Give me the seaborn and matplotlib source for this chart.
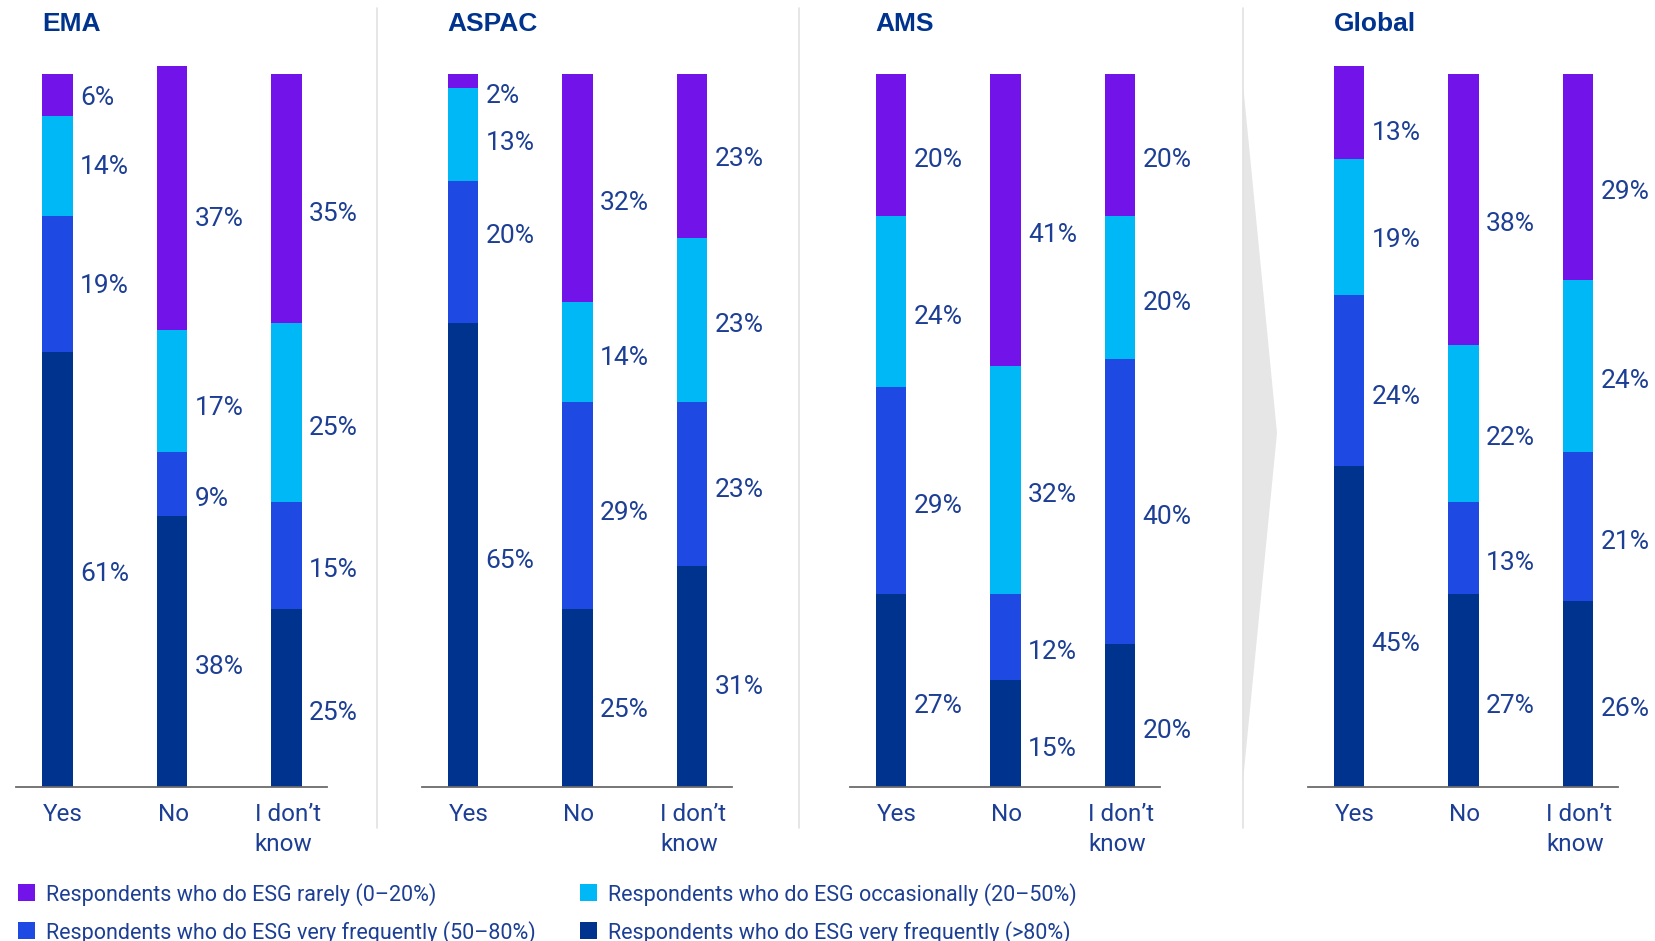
import matplotlib
matplotlib.use("Agg")
import matplotlib.pyplot as plt
import matplotlib.transforms as mtransforms
from matplotlib.lines import Line2D
from matplotlib.patches import Polygon, Rectangle
import pandas as pd
import seaborn as sns

# Survey data: share of respondents by ESG frequency, per region and answer
regions = ["EMA", "ASPAC", "AMS", "Global"]
answers = ["Yes", "No", "I don\u2019t\nknow"]
levels = [
    "Respondents who do ESG very frequently (>80%)",
    "Respondents who do ESG very frequently (50\u201380%)",
    "Respondents who do ESG occasionally (20\u201350%)",
    "Respondents who do ESG rarely (0\u201320%)",
]

# values per answer, stacked bottom -> top: >80%, 50-80%, 20-50%, 0-20%
ema = [[61, 19, 14, 6], [38, 9, 17, 37], [25, 15, 25, 35]]
aspac = [[65, 20, 13, 2], [25, 29, 14, 32], [31, 23, 23, 23]]
ams = [[27, 29, 24, 20], [15, 12, 32, 41], [20, 40, 20, 20]]
global_ = [[45, 24, 19, 13], [27, 13, 22, 38], [26, 21, 24, 29]]
region_values = [ema, aspac, ams, global_]

colors = ["#00338D", "#1E49E2", "#00B8F5", "#7213EA"]
text_color = "#1C3E94"
title_color = "#00338D"

# vertical nudges for value labels (px, positive = downwards)
default_shift = 12
label_shift = {
    ("EMA", 0): [2, 0, -2, 1],
    ("EMA", 1): [12, 12, 14, 17],
    ("ASPAC", 0): [3, -17, 6, 12],
    ("ASPAC", 1): [9, 5, 4, 12],
    ("ASPAC", 2): [8, 4, 3, 1],
    ("Global", 0): [14, 13, 10, 17],
}

rows = []
for reg, vals in zip(regions, region_values):
    for ai, (ans, stack) in enumerate(zip(answers, vals)):
        cum = 0
        for li, (lev, v) in enumerate(zip(levels, stack)):
            rows.append(dict(region=reg, answer=ans, a_idx=ai, l_idx=li,
                             level=lev, value=v, bottom=cum, top=cum + v))
            cum += v
df = pd.DataFrame(rows)

sns.set_theme(style="white")
plt.rcParams["font.family"] = ["Roboto", "Liberation Sans", "DejaVu Sans"]

W, H = 1655, 941
fig = plt.figure(figsize=(W / 100, H / 100), dpi=100)


def fx(px):
    return px / W


def fy(py):
    return 1 - py / H


spacing = 114.5          # px between bar centres
bar_w = 0.27
xlim = (-0.36, 2.35)
first_centres = [57.5, 463, 891, 1349]
base_px, top_px = 787, 73.5
px_per_unit = (base_px - top_px) / 100
scale = W / 1568

for reg, c0 in zip(regions, first_centres):
    left = c0 - (0 - xlim[0]) * spacing
    width = (xlim[1] - xlim[0]) * spacing
    ax = fig.add_axes([fx(left), fy(base_px), width / W, (base_px - top_px) / H])
    sub = df[df.region == reg]
    # draw cumulative totals from the top level down so each band shows
    for lev, col in zip(levels[::-1], colors[::-1]):
        d = sub[sub.level == lev]
        sns.barplot(data=d, x="answer", y="top", order=answers, color=col,
                    saturation=1, width=bar_w, errorbar=None, linewidth=0,
                    ax=ax)
    for p in ax.patches:
        p.set_clip_on(False)
    ax.set_xlim(*xlim)
    ax.set_ylim(0, 100)
    ax.set_xlabel("")
    ax.set_ylabel("")
    ax.set_xticks([])
    ax.set_yticks([])
    for s in ["top", "right", "left"]:
        ax.spines[s].set_visible(False)
    ax.spines["bottom"].set_color("#6b6b6b")
    ax.spines["bottom"].set_linewidth(1.3)
    ax.patch.set_alpha(0)

    # segment value labels
    for _, r in sub.iterrows():
        shifts = label_shift.get((reg, r.a_idx), [default_shift] * 4)
        dy = shifts[r.l_idx] * scale / px_per_unit
        ax.text(r.a_idx + bar_w / 2 + 0.06, r.bottom + r.value / 2 - dy,
                f"{r.value}%", ha="left", va="center_baseline",
                fontsize=19, color=text_color, clip_on=False)

    trans = mtransforms.blended_transform_factory(ax.transData, fig.transFigure)
    # category labels: short ones flush with the bar, the two-line one centred
    for i, ans in enumerate(answers):
        centred = "\n" in ans
        ax.text(i + 0.01 if centred else i - bar_w / 2 + 0.01, fy(803), ans,
                transform=trans, ha="center" if centred else "left",
                multialignment="left", va="top", fontsize=17.5,
                color=text_color, linespacing=1.38)
    # panel title
    ax.text(-bar_w / 2, fy(31), reg, transform=trans, ha="left",
            va="baseline", fontsize=19, fontweight="bold", color=title_color,
            family=["Liberation Sans", "DejaVu Sans"])

# panel separators
for xp in [377, 799, 1243]:
    fig.add_artist(Line2D([fx(xp), fx(xp)], [fy(8), fy(828)],
                          color="#e2e2e2", lw=1.2))
fig.add_artist(Polygon([(fx(1243), fy(84)), (fx(1277), fy(433)),
                        (fx(1243), fy(781))], closed=True,
                       facecolor="#e6e6e6", edgecolor="none"))

# legend
legend_items = [
    (levels[3], colors[3], 18, 892),
    (levels[2], colors[2], 580, 892),
    (levels[1], colors[1], 18, 930),
    (levels[0], colors[0], 580, 930),
]
sq = 17
for label, col, xp, yp in legend_items:
    fig.add_artist(Rectangle((fx(xp), fy(yp + sq / 2)), sq / W, sq / H,
                             facecolor=col, edgecolor="none"))
    fig.text(fx(xp + 28), fy(yp), label, ha="left", va="center_baseline",
             fontsize=15.5, color=text_color)

fig.savefig("out.png", dpi=100)
